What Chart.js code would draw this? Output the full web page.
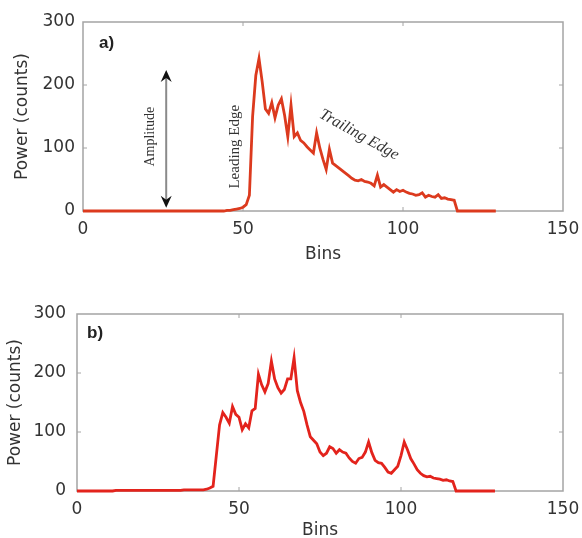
<!DOCTYPE html>
<html>
<head>
<meta charset="utf-8">
<script src="https://cdn.jsdelivr.net/npm/chart.js@4.4.0/dist/chart.umd.min.js"></script>
<style>
  body { margin: 0; background: #fff; }
  .panel { position: absolute; left: 0; width: 582px; }
  #panelA { top: 0; height: 268px; }
  #panelB { top: 268px; height: 270px; }
</style>
</head>
<body>
<div class="panel" id="panelA"><canvas id="chartA" width="582" height="268"></canvas></div>
<div class="panel" id="panelB"><canvas id="chartB" width="582" height="270"></canvas></div>
<script>
// bin numbers 0..129
const bins = Array.from({ length: 130 }, (_, i) => i);

// panel a) waveform, power in counts per bin
const powerA = [
  0, 0, 0, 0, 0, 0, 0, 0, 0, 0,
  0, 0, 0, 0, 0, 0, 0, 0, 0, 0,
  0, 0, 0, 0, 0, 0, 0, 0, 0, 0,
  0, 0, 0, 0, 0, 0, 0, 0, 0, 0,
  0, 0, 0, 0, 0, 1, 1, 2, 3, 4,
  6, 10, 25, 150, 215, 242, 205, 162, 155, 172,
  148, 168, 178, 152, 118, 168, 118, 124, 112, 108,
  102, 97, 92, 124, 100, 82, 66, 98, 76, 72,
  68, 64, 60, 56, 52, 49, 48, 50, 47, 46,
  44, 40, 57, 38, 42, 38, 34, 30, 34, 31,
  33, 30, 28, 27, 25, 26, 29, 22, 25, 23,
  22, 26, 20, 21, 19, 18, 17, 0, 0, 0,
  0, 0, 0, 0, 0, 0, 0, 0, 0, 0
];

// panel b) waveform
const powerB = [
  0, 0, 0, 0, 0, 0, 0, 0, 0, 0,
  0, 0, 1, 1, 1, 1, 1, 1, 1, 1,
  1, 1, 1, 1, 1, 1, 1, 1, 1, 1,
  1, 1, 1, 2, 2, 2, 2, 2, 2, 2,
  3, 5, 8, 60, 112, 133, 125, 115, 143, 130,
  125, 104, 114, 107, 136, 140, 198, 180, 168, 182,
  220, 190, 175, 166, 172, 190, 190, 226, 170, 150,
  135, 112, 92, 86, 80, 66, 60, 64, 75, 72,
  64, 70, 66, 64, 56, 50, 47, 55, 57, 66,
  83, 65, 52, 48, 47, 40, 32, 30, 36, 42,
  60, 83, 70, 55, 46, 36, 30, 26, 24, 25,
  22, 21, 20, 18, 19, 17, 16, 0, 0, 0,
  0, 0, 0, 0, 0, 0, 0, 0, 0, 0
];

const xTicks = [0, 50, 100, 150];
const yTicks = [0, 100, 200, 300];

const tickFont = { family: 'DejaVu Sans, sans-serif', size: 17 };
const textColor = '#333';
const frameColor = '#a4a4a4';

// frame box and small inward tick marks, like a matlab axes
const framePlugin = {
  id: 'frame',
  beforeDatasetsDraw(chart) {
    const { ctx, chartArea: a, scales } = chart;
    ctx.save();
    ctx.strokeStyle = frameColor;
    ctx.lineWidth = 1.5;
    ctx.strokeRect(a.left, a.top, a.right - a.left, a.bottom - a.top);
    ctx.lineWidth = 1;
    xTicks.slice(1, -1).forEach(v => {
      const px = scales.x.getPixelForValue(v);
      ctx.beginPath();
      ctx.moveTo(px, a.bottom); ctx.lineTo(px, a.bottom - 4);
      ctx.moveTo(px, a.top); ctx.lineTo(px, a.top + 4);
      ctx.stroke();
    });
    yTicks.slice(1, -1).forEach(v => {
      const py = scales.y.getPixelForValue(v);
      ctx.beginPath();
      ctx.moveTo(a.left, py); ctx.lineTo(a.left + 4, py);
      ctx.moveTo(a.right, py); ctx.lineTo(a.right - 4, py);
      ctx.stroke();
    });
    ctx.restore();
  }
};

function drawArrowHead(ctx, x, y, dir) {
  ctx.beginPath();
  ctx.moveTo(x, y);
  ctx.lineTo(x - 5.5, y - dir * 12);
  ctx.lineTo(x, y - dir * 8);
  ctx.lineTo(x + 5.5, y - dir * 12);
  ctx.closePath();
  ctx.fill();
}

// panel labels and the annotations of panel a)
const notesPlugin = {
  id: 'notes',
  afterDatasetsDraw(chart, args, opts) {
    const { ctx, chartArea: a, scales: { x, y } } = chart;
    ctx.save();
    ctx.fillStyle = '#222';
    ctx.font = 'bold 17px Liberation Sans, Arial, sans-serif';
    ctx.textAlign = 'left';
    ctx.textBaseline = 'middle';
    ctx.fillText(opts.tag, a.left + opts.tagDx, a.top + opts.tagDy);

    if (opts.annotate) {
      // amplitude double arrow
      const ax = x.getPixelForValue(26);
      const yTop = y.getPixelForValue(224);
      const yBot = y.getPixelForValue(5);
      ctx.strokeStyle = '#8a8a8a';
      ctx.lineWidth = 2;
      ctx.beginPath();
      ctx.moveTo(ax, yTop + 7);
      ctx.lineTo(ax, yBot - 7);
      ctx.stroke();
      ctx.fillStyle = '#111';
      drawArrowHead(ctx, ax, yTop, -1);
      drawArrowHead(ctx, ax, yBot, 1);

      ctx.fillStyle = '#333';
      ctx.textAlign = 'center';
      ctx.textBaseline = 'middle';

      ctx.save();
      ctx.translate(x.getPixelForValue(20.9), y.getPixelForValue(118));
      ctx.rotate(-Math.PI / 2);
      ctx.font = '14px Liberation Serif, Times New Roman, serif';
      ctx.fillText('Amplitude', 0, 0);
      ctx.restore();

      ctx.save();
      ctx.translate(x.getPixelForValue(47.4), y.getPixelForValue(102));
      ctx.rotate(-Math.PI / 2);
      ctx.font = '15px Liberation Serif, Times New Roman, serif';
      ctx.fillText('Leading Edge', 0, 0);
      ctx.restore();

      ctx.save();
      ctx.translate(x.getPixelForValue(86.3), y.getPixelForValue(121));
      ctx.rotate(29 * Math.PI / 180);
      ctx.font = 'italic 16px Liberation Serif, Times New Roman, serif';
      ctx.fillText('Trailing Edge', 0, 0);
      ctx.restore();
    }
    ctx.restore();
  }
};

function makeChart(id, values, color, box, notes) {
  return new Chart(document.getElementById(id), {
    type: 'line',
    data: {
      labels: bins,
      datasets: [{
        data: bins.map((b, i) => ({ x: b, y: values[i] })),
        borderColor: color,
        borderWidth: 2.8,
        pointRadius: 0,
        tension: 0,
        clip: 4
      }]
    },
    options: {
      responsive: false,
      animation: false,
      events: [],
      layout: { padding: { top: box.top, right: box.right, left: 0, bottom: 0 } },
      plugins: {
        legend: { display: false },
        tooltip: { enabled: false },
        notes: notes
      },
      scales: {
        x: {
          type: 'linear',
          min: 0,
          max: 150,
          border: { display: false },
          grid: { display: false, drawTicks: false },
          afterBuildTicks: s => { s.ticks = xTicks.map(v => ({ value: v })); },
          afterFit: s => {
            s.height = box.xHeight;
            s.paddingLeft = 0;
            s.paddingRight = 0;
          },
          ticks: { color: textColor, font: tickFont, padding: 8, maxRotation: 0, autoSkip: false },
          title: {
            display: true,
            text: 'Bins',
            color: textColor,
            font: tickFont,
            padding: { top: 0, bottom: box.titleBottom }
          }
        },
        y: {
          min: 0,
          max: 300,
          border: { display: false },
          grid: { display: false, drawTicks: false },
          afterBuildTicks: s => { s.ticks = yTicks.map(v => ({ value: v })); },
          afterFit: s => { s.width = box.yWidth; },
          ticks: { color: textColor, font: tickFont, padding: box.yPad },
          title: {
            display: true,
            text: 'Power (counts)',
            color: textColor,
            font: tickFont,
            padding: { top: box.yTitleLeft, bottom: 0 }
          }
        }
      }
    },
    plugins: [framePlugin, notesPlugin]
  });
}

makeChart('chartA', powerA, '#dc3a1e',
  { top: 22, right: 19, yWidth: 83, xHeight: 57, titleBottom: 3, yPad: 8, yTitleLeft: 12 },
  { tag: 'a)', tagDx: 16, tagDy: 21, annotate: true });

makeChart('chartB', powerB, '#e3231c',
  { top: 46, right: 19, yWidth: 77, xHeight: 47, titleBottom: -3, yPad: 11, yTitleLeft: 5 },
  { tag: 'b)', tagDx: 10, tagDy: 19, annotate: false });
</script>
</body>
</html>
